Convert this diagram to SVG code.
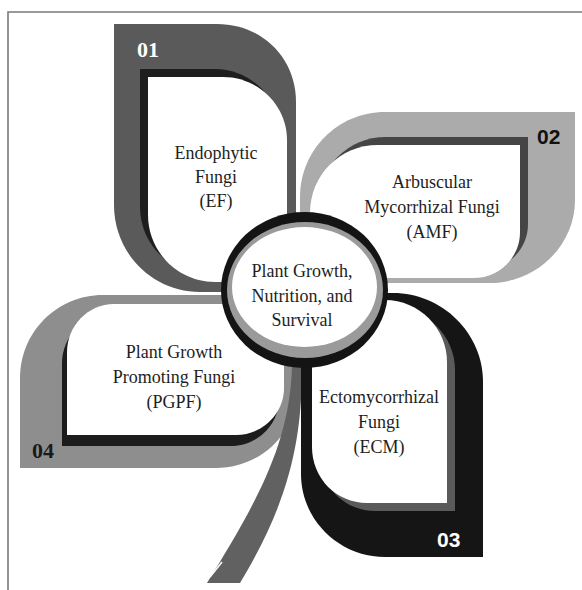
<svg xmlns="http://www.w3.org/2000/svg" width="582" height="590" viewBox="0 0 582 590">
<style>
.lbl{font-family:"Liberation Serif","Times New Roman",serif;font-size:18px;fill:#1e1e1e;text-anchor:middle}
.numS{font-family:"Liberation Serif","Times New Roman",serif;font-weight:bold;font-size:22px}
.numA{font-family:"Liberation Sans",Arial,sans-serif;font-weight:bold;font-size:21px}
.white{fill:#ffffff}
</style>
<rect x="0" y="0" width="582" height="590" fill="#ffffff"/>
<path d="M8,590 V12 H582" fill="none" stroke="#7a7a7a" stroke-width="1.6"/>

<g id="petal-01">
  <path d="M114,24 H217 C262,24 296,58 296,102 V292 H200 C152,292 114,253 114,205 Z" fill="#5a5a5a"/>
  <path transform="translate(-8,-8)" d="M148,77 H223 C258,77 287,105 287,140 V282 H215 C178,282 148,252 148,215 Z" fill="#1e1e1e"/>
  <path d="M148,77 H223 C258,77 287,105 287,140 V282 H215 C178,282 148,252 148,215 Z" class="white"/>
  <text class="numS" x="137" y="57" fill="#ffffff">01</text>
  <text class="lbl" x="216" y="159">Endophytic</text>
  <text class="lbl" x="216" y="183">Fungi</text>
  <text class="lbl" x="216" y="207">(EF)</text>
</g>

<g id="petal-02">
  <path d="M575,112 V200 C575,245 537,283 490,283 H300 V197 C300,150 338,112 385,112 Z" fill="#ababab"/>
  <path transform="translate(8,-8)" d="M520,145 V232 C520,258 499,278 473,278 H310 V213 C310,175 340,145 378,145 Z" fill="#454545"/>
  <path d="M520,145 V232 C520,258 499,278 473,278 H310 V213 C310,175 340,145 378,145 Z" class="white"/>
  <text class="numA" x="537" y="144" fill="#111111">02</text>
  <text class="lbl" x="432" y="188">Arbuscular</text>
  <text class="lbl" x="432" y="213">Mycorrhizal Fungi</text>
  <text class="lbl" x="432" y="238">(AMF)</text>
</g>

<g id="petal-04">
  <path d="M20,468 V378 C20,332 57,295 103,295 H298 V388 C298,432 261,468 216,468 Z" fill="#8e8e8e"/>
  <path transform="translate(-5,11)" d="M67,435 V352 C67,326 88,304 114,304 H284 V388 C284,414 262,435 236,435 Z" fill="#1c1c1c"/>
  <path d="M67,435 V352 C67,326 88,304 114,304 H284 V388 C284,414 262,435 236,435 Z" class="white"/>
  <text class="numS" x="32" y="458" fill="#1a1a1a">04</text>
  <text class="lbl" x="174" y="358">Plant Growth</text>
  <text class="lbl" x="174" y="383">Promoting Fungi</text>
  <text class="lbl" x="174" y="408">(PGPF)</text>
</g>

<g id="stem">
  <path d="M302,366 C302,440 290,500 240,583 H207 C255,505 290,445 292,366 Z" fill="#616161"/>
  <path d="M210,577 L222,562" stroke="#ffffff" stroke-width="1.5"/>
</g>

<g id="petal-03">
  <path d="M483,557 H385 C339,557 301,520 301,474 V293 H393 C442,293 483,333 483,382 Z" fill="#151515"/>
  <path transform="translate(8,8)" d="M447,503 H367 C336,503 312,478 312,447 V300 H385 C419,300 447,328 447,362 Z" fill="#5a5a5a"/>
  <path d="M447,503 H367 C336,503 312,478 312,447 V300 H385 C419,300 447,328 447,362 Z" class="white"/>
  <text class="numA" x="437" y="547" fill="#ffffff">03</text>
  <text class="lbl" x="379" y="403">Ectomycorrhizal</text>
  <text class="lbl" x="379" y="428">Fungi</text>
  <text class="lbl" x="379" y="453">(ECM)</text>
</g>

<g id="center">
  <ellipse cx="304.5" cy="290" rx="83.5" ry="78" fill="#141414"/>
  <ellipse cx="305" cy="290" rx="78" ry="68" fill="#9a9a9a"/>
  <ellipse cx="304.5" cy="287" rx="72.5" ry="60" fill="#ffffff"/>
  <text class="lbl" x="302" y="277">Plant Growth,</text>
  <text class="lbl" x="302" y="302">Nutrition, and</text>
  <text class="lbl" x="302" y="326">Survival</text>
</g>
</svg>
